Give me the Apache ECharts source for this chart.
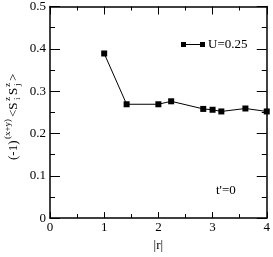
<!DOCTYPE html>
<html><head><meta charset="utf-8">
<script src="https://cdn.jsdelivr.net/npm/echarts@6/dist/echarts.min.js"></script>
<style>html,body{margin:0;padding:0;background:#fff}#c{width:273px;height:257px}</style>
</head><body><div id="c"></div>
<script>
const rValues = [1, 1.414, 2, 2.236, 2.828, 3, 3.162, 3.606, 4];
const corrValues = [0.389, 0.269, 0.269, 0.276, 0.258, 0.256, 0.252, 0.259, 0.252];
const seriesName = 'U=0.25';
const xTicks = [0, 1, 2, 3, 4];
const yTicks = [0, 0.1, 0.2, 0.3, 0.4, 0.5];
const annotation = "t'=0";

const F = '"Liberation Serif", "DejaVu Serif", serif';
const chart = echarts.init(document.getElementById('c'), null, {renderer: 'canvas'});
const axisLine = {show: true, onZero: false, lineStyle: {color: '#000', width: 1.5}};
function xAx(pos, label) {
  return {type: 'value', position: pos, min: xTicks[0], max: xTicks[xTicks.length-1], interval: 1,
    axisLine: axisLine, splitLine: {show: false},
    axisTick: {show: true, inside: true, length: pos === 'bottom' ? 6 : 8, lineStyle: {color: '#000', width: 1}},
    minorTick: {show: true, splitNumber: 2, length: 4, lineStyle: {color: '#000', width: 1}},
    axisLabel: {show: label, fontFamily: F, fontSize: 13, color: '#000', margin: 3},
    name: label ? '|r|' : '', nameLocation: 'middle', nameGap: 19,
    nameTextStyle: {fontFamily: F, fontSize: 13, color: '#000'}};
}
function yAx(pos, label) {
  return {type: 'value', position: pos, min: yTicks[0], max: yTicks[yTicks.length-1], interval: 0.1,
    axisLine: axisLine, splitLine: {show: false},
    axisTick: {show: true, inside: true, length: 10, lineStyle: {color: '#000', width: 1}},
    minorTick: {show: true, splitNumber: 2, length: 5, lineStyle: {color: '#000', width: 1}},
    axisLabel: {show: label, fontFamily: F, fontSize: 13, color: '#000', margin: 4,
      formatter: v => (v === 0 ? '0' : v.toFixed(1))}};
}
const sup = 9, main = 13;
function t(text, x, y, size) {
  return {type: 'text', x: x, y: y, style: {text: text, font: size + 'px ' + F, fill: '#000', textVerticalAlign: 'middle'}};
}
chart.setOption({
  animation: false,
  grid: {left: 50, right: 5, top: 6, bottom: 33},
  xAxis: [xAx('bottom', true), xAx('top', false)],
  yAxis: [yAx('left', true), yAx('right', false)],
  legend: {data: [{name: seriesName,
      icon: 'path://M0,0h5v5h-5z M19,0h5v5h-5z M5,2h14v1h-14z'}],
    left: 176, top: 33, itemWidth: 24, itemHeight: 5, itemGap: 3,
    textStyle: {fontFamily: F, fontSize: 13, color: '#000', padding: [0,0,0,-2]}},
  series: [{name: seriesName, type: 'line', data: rValues.map((r, i) => [r, corrValues[i]]),
    symbol: 'rect', symbolSize: 6, itemStyle: {color: '#000'},
    lineStyle: {color: '#000', width: 1}}],
  graphic: [
    {type: 'text', left: 216, top: 184, style: {text: annotation, font: '13px ' + F, fill: '#000'}},
    {type: 'group', x: 14, y: 160, rotation: Math.PI / 2, children: [
      t('(-1)', 0, 0, main),
      t('(x+y)', 21, -6, sup),
      t('<S', 43, 0, main),
      t('z', 59, -6, sup), t('i', 60, 4, sup),
      t('S', 65, 0, main),
      t('z', 73, -6, sup), t('j', 74, 4, sup),
      t('>', 79, 0, main)
    ]}
  ]
});
</script></body></html>
